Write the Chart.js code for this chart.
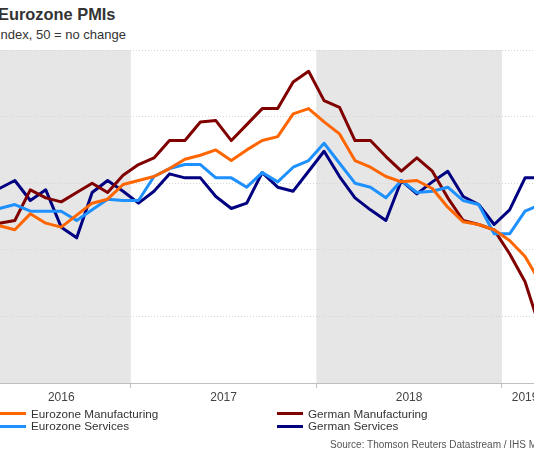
<!DOCTYPE html>
<html>
<head>
<meta charset="utf-8">
<script src="https://cdn.jsdelivr.net/npm/chart.js@4.4.1/dist/chart.umd.min.js"></script>
<style>
  body { margin: 0; width: 534px; height: 450px; overflow: hidden; position: relative; background: #fff;
         font-family: "Liberation Sans", Arial, sans-serif; color: #333; }
  #title { position: absolute; left: -2px; top: 6.3px; font: bold 16.4px/16px "Liberation Sans", Arial, sans-serif; color: #333; white-space: nowrap; }
  #subtitle { position: absolute; left: -3px; top: 28px; font: 13px/13px "Liberation Sans", Arial, sans-serif; color: #333; white-space: nowrap; }
  #chart { position: absolute; left: -20px; top: 0; width: 600px; height: 450px; }
  #legend { position: absolute; left: -0.5px; top: 407.7px; display: grid; grid-auto-flow: column;
            grid-template-rows: 12.6px 12.6px; grid-template-columns: 277px auto; }
  .item { display: flex; align-items: center; height: 12.6px; white-space: nowrap;
          font: 11.7px/12.6px "Liberation Sans", Arial, sans-serif; color: #333; }
  .swatch { width: 26px; height: 3px; margin-right: 5.5px; }
  #source { position: absolute; right: -22px; top: 439.5px; font: 10px/10px "Liberation Sans", Arial, sans-serif; color: #555; white-space: nowrap; }
</style>
</head>
<body>
<div id="title">Eurozone PMIs</div>
<div id="subtitle">Index, 50 = no change</div>
<canvas id="chart" width="600" height="450"></canvas>
<div id="legend"></div>
<div id="source">Source: Thomson Reuters Datastream / IHS Markit</div>
<script>
// monthly PMI readings, Apr 2016 - Mar 2019
const months = [
    '2016-04', '2016-05', '2016-06', '2016-07', '2016-08', '2016-09', '2016-10', '2016-11', '2016-12',
    '2017-01', '2017-02', '2017-03', '2017-04', '2017-05', '2017-06', '2017-07', '2017-08', '2017-09', '2017-10', '2017-11', '2017-12',
    '2018-01', '2018-02', '2018-03', '2018-04', '2018-05', '2018-06', '2018-07', '2018-08', '2018-09', '2018-10', '2018-11', '2018-12',
    '2019-01', '2019-02', '2019-03'
]
const yearLabels = ['2016', '2017', '2018', '2019']

const eurozoneManufacturing = [
    51.8, 51.5, 52.7, 52.0, 51.7, 52.6, 53.5, 53.8, 54.9,
    55.2, 55.5, 56.1, 56.8, 57.1, 57.5, 56.7, 57.5, 58.2, 58.5, 60.2, 60.6,
    59.6, 58.7, 56.7, 56.2, 55.5, 55.1, 55.2, 54.6, 53.2, 52.1, 51.9, 51.5,
    50.7, 49.5, 47.5
]
const eurozoneServices = [
    53.1, 53.4, 52.9, 52.9, 52.9, 52.2, 53.0, 53.8, 53.7,
    53.7, 55.5, 56.1, 56.4, 56.4, 55.4, 55.4, 54.7, 55.8, 55.1, 56.2, 56.7,
    58.0, 56.5, 55.0, 54.7, 53.9, 55.2, 54.3, 54.4, 54.7, 53.7, 53.4, 51.2,
    51.2, 52.9, 53.4
]
const germanManufacturing = [
    52.0, 52.2, 54.5, 53.9, 53.6, 54.3, 55.0, 54.3, 55.6,
    56.4, 56.9, 58.2, 58.2, 59.6, 59.7, 58.2, 59.4, 60.6, 60.6, 62.6, 63.4,
    61.2, 60.7, 58.2, 58.2, 57.0, 55.9, 56.9, 55.9, 53.9, 52.2, 51.9, 51.5,
    49.7, 47.6, 44.0
]
const germanServices = [
    54.6, 55.2, 53.7, 54.5, 51.7, 50.9, 54.3, 55.2, 54.4,
    53.5, 54.4, 55.7, 55.4, 55.4, 54.0, 53.1, 53.5, 55.8, 54.7, 54.4, 55.9,
    57.4, 55.5, 53.9, 53.0, 52.2, 55.2, 54.2, 55.1, 55.9, 54.0, 53.4, 51.9,
    53.0, 55.4, 55.4
]

const series = [
    { label: 'Eurozone Manufacturing', values: eurozoneManufacturing, color: '#ff6600' },
    { label: 'Eurozone Services', values: eurozoneServices, color: '#1e90ff' },
    { label: 'German Manufacturing', values: germanManufacturing, color: '#800000' },
    { label: 'German Services', values: germanServices, color: '#000080' }
]

const X_MIN = -0.5
const X_MAX = 36

// first / last month index of every year
const yearRanges = yearLabels.map(year => {
    const idx = months.map((m, i) => m.startsWith(year) ? i : -1).filter(i => i >= 0)
    return { year, first: idx[0], last: idx[idx.length - 1] }
})
const boundaries = yearRanges.slice(1).map(r => r.first - 0.5)
const boundarySet = new Set(boundaries)
const labelAt = new Map()
yearRanges.forEach(r => {
    const lo = Math.max(r.first - 0.5, X_MIN)
    const hi = Math.min(r.last + 0.5, X_MAX)
    labelAt.set((lo + hi) / 2, r.year)
})

// grey background for every other year
const yearBands = {
    id: 'yearBands',
    beforeDraw(chart) {
        const { ctx, chartArea, scales } = chart
        ctx.save()
        ctx.fillStyle = '#e6e6e6'
        yearRanges.forEach((r, i) => {
            if (i % 2 !== 0) return
            const x0 = scales.x.getPixelForValue(Math.max(r.first - 0.5, X_MIN))
            const x1 = scales.x.getPixelForValue(Math.min(r.last + 0.5, X_MAX))
            ctx.fillRect(x0, chartArea.top, x1 - x0, chartArea.bottom - chartArea.top)
        })
        ctx.restore()
    }
}

new Chart(document.querySelector('#chart').getContext('2d'), {
    type: 'line',
    data: {
        datasets: series.map(s => ({
            label: s.label,
            data: s.values.map((v, i) => ({ x: i, y: v })),
            borderColor: s.color,
            backgroundColor: s.color,
            borderWidth: 3,
            borderJoinStyle: 'round',
            pointRadius: 0,
            tension: 0,
            fill: false
        }))
    },
    options: {
        responsive: false,
        animation: false,
        events: [],
        layout: { padding: { left: 11.65, right: 24, top: 50, bottom: 0 } },
        plugins: { legend: { display: false }, tooltip: { enabled: false } },
        scales: {
            x: {
                type: 'linear',
                min: X_MIN,
                max: X_MAX,
                afterBuildTicks: scale => {
                    const vals = boundaries.concat([...labelAt.keys()]).sort((a, b) => a - b)
                    scale.ticks = vals.map(value => ({ value }))
                },
                afterFit: scale => { scale.height = 67 },
                ticks: {
                    autoSkip: false,
                    maxRotation: 0,
                    padding: 2,
                    color: '#444',
                    font: { family: '"Liberation Sans", Arial, sans-serif', size: 12 },
                    callback: value => labelAt.get(value) || ''
                },
                grid: {
                    drawOnChartArea: false,
                    drawTicks: true,
                    tickLength: 5,
                    color: ctx => (ctx.tick && boundarySet.has(ctx.tick.value)) ? '#bfbfbf' : 'rgba(0,0,0,0)'
                },
                border: { display: true, color: '#bfbfbf', width: 1 }
            },
            y: {
                min: 40,
                max: 65,
                afterFit: scale => { scale.width = 0 },
                ticks: { display: false, stepSize: 5 },
                grid: { color: '#d4d4d4', lineWidth: 1, drawTicks: false },
                border: { display: false, dash: [1, 2] }
            }
        }
    },
    plugins: [yearBands]
})

// two-column legend
const legend = document.querySelector('#legend')
series.forEach(s => {
    const item = document.createElement('div')
    item.className = 'item'
    const sw = document.createElement('span')
    sw.className = 'swatch'
    sw.style.background = s.color
    const txt = document.createElement('span')
    txt.textContent = s.label
    item.appendChild(sw)
    item.appendChild(txt)
    legend.appendChild(item)
})
</script>
</body>
</html>
